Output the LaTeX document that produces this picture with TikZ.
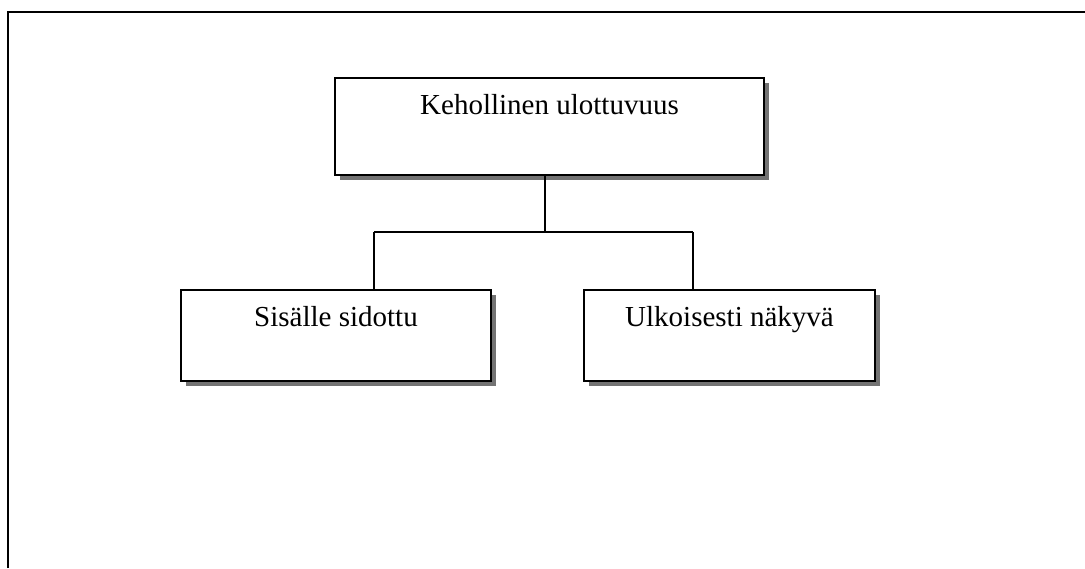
\documentclass[tikz,border=0pt]{standalone}
\usepackage{fontspec}
\setmainfont{Liberation Serif}
\usetikzlibrary{shadows}
\begin{document}
\begin{tikzpicture}[x=1pt,y=-1pt,
  box/.style={draw=black, line width=2pt, fill=white, rectangle, inner xsep=0pt, inner ysep=0pt,
    anchor=north, font=\fontsize{29}{34}\selectfont,
    drop shadow={shadow xshift=5pt, shadow yshift=-5pt, fill=gray!90!black, opacity=1}},
  conn/.style={line width=2pt, black}]
\useasboundingbox (0,0) rectangle (1085,568);
\fill[white] (0,0) rectangle (1085,568);
\draw[line width=2pt] (8,568) -- (8,12) -- (1085,12);
\node[box, minimum width=429pt, text height=36pt, text depth=61pt] (top) at (549.5,77) {Kehollinen ulottuvuus};
\node[box, minimum width=310pt, text height=36pt, text depth=55pt] (left) at (336,289) {Sisälle sidottu};
\node[box, minimum width=291pt, text height=36pt, text depth=55pt] (right) at (729.5,289) {Ulkoisesti näkyvä};
\coordinate (j) at (545,232);
\coordinate (lj) at (374,232);
\coordinate (rj) at (693,232);
\draw[conn] (top.south -| j) -- (j);
\draw[conn] (lj) -- (rj);
\draw[conn] (lj) -- (lj |- left.north);
\draw[conn] (rj) -- (rj |- right.north);
\end{tikzpicture}
\end{document}
